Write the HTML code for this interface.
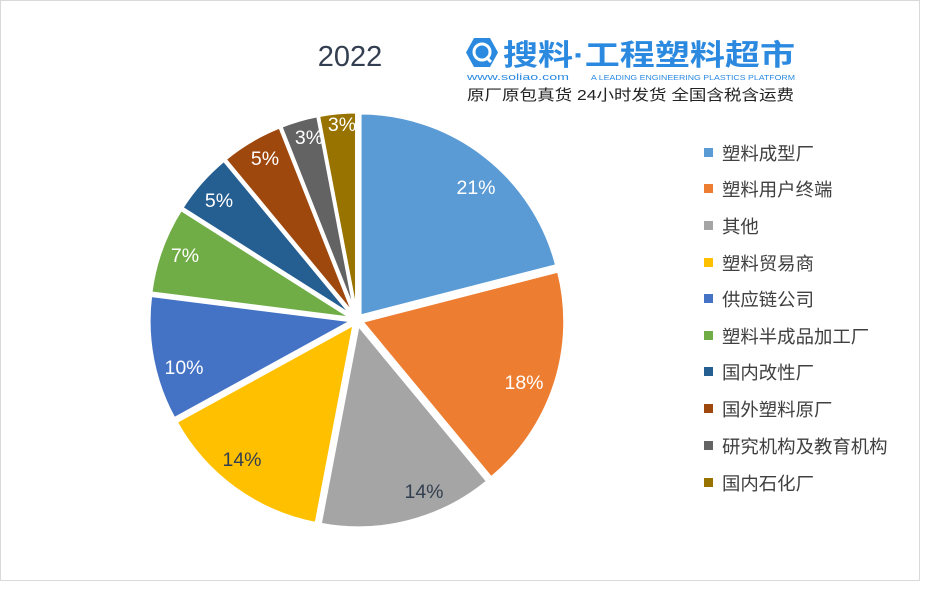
<!DOCTYPE html>
<html><head><meta charset="utf-8"><style>
body{margin:0;background:#fff;}
svg{display:block;font-family:"Liberation Sans","Noto Sans CJK SC",sans-serif;}
</style></head><body>
<svg width="926" height="595" viewBox="0 0 926 595">
<rect x="0.5" y="0.5" width="919" height="580" fill="#fff" stroke="#d9d9d9"/>
<text x="350" y="66" font-size="29" fill="#333f50" text-anchor="middle">2022</text>
<g>
<polygon points="474,38 490,38 498,52.5 490,67 474,67 466,52.5" fill="#2b8ae0"/>
<circle cx="482" cy="52" r="8" fill="none" stroke="#fff" stroke-width="3"/>
<line x1="486" y1="57" x2="491" y2="62" stroke="#fff" stroke-width="3"/>
<text x="503" y="65" font-size="29" font-weight="bold" fill="#2b8ae0" textLength="292" lengthAdjust="spacingAndGlyphs">搜料·工程塑料超市</text>
<text x="467" y="80" font-size="9.5" fill="#2b8ae0" textLength="102" lengthAdjust="spacingAndGlyphs">www.soliao.com</text>
<text x="591" y="80" font-size="7.5" fill="#2b8ae0" textLength="204" lengthAdjust="spacingAndGlyphs">A LEADING ENGINEERING PLASTICS PLATFORM</text>
<text x="467" y="100" font-size="15" fill="#222" textLength="327" lengthAdjust="spacingAndGlyphs">原厂原包真货  24小时发货  全国含税含运费</text>
</g>
<g stroke="#fff" stroke-width="3" stroke-linejoin="round">
<path transform="translate(3.07,-3.95)" d="M357,320 L357,117 A203,203 0 0 1 553.6,269.5 Z" fill="#5b9bd5"/>
<path transform="translate(4.76,1.55)" d="M357,320 L553.6,269.5 A203,203 0 0 1 486.4,476.4 Z" fill="#ed7d31"/>
<path transform="translate(1.24,4.84)" d="M357,320 L486.4,476.4 A203,203 0 0 1 319.0,519.4 Z" fill="#a5a5a5"/>
<path transform="translate(-2.94,4.05)" d="M357,320 L319.0,519.4 A203,203 0 0 1 179.1,417.8 Z" fill="#ffc000"/>
<path transform="translate(-4.91,0.94)" d="M357,320 L179.1,417.8 A203,203 0 0 1 155.6,294.6 Z" fill="#4472c4"/>
<path transform="translate(-4.70,-1.69)" d="M357,320 L155.6,294.6 A203,203 0 0 1 185.6,211.2 Z" fill="#70ad47"/>
<path transform="translate(-3.75,-3.31)" d="M357,320 L185.6,211.2 A203,203 0 0 1 227.6,163.6 Z" fill="#255e91"/>
<path transform="translate(-2.55,-4.30)" d="M357,320 L227.6,163.6 A203,203 0 0 1 282.3,131.3 Z" fill="#9e480e"/>
<path transform="translate(-1.39,-4.80)" d="M357,320 L282.3,131.3 A203,203 0 0 1 319.0,120.6 Z" fill="#636363"/>
<path transform="translate(-0.47,-4.98)" d="M357,320 L319.0,120.6 A203,203 0 0 1 357,117 Z" fill="#997300"/>
</g>
<g font-size="19.5" text-anchor="middle">
<text x="476" y="194" fill="#fff">21%</text>
<text x="524" y="389" fill="#fff">18%</text>
<text x="424" y="498" fill="#333f50">14%</text>
<text x="242" y="466" fill="#333f50">14%</text>
<text x="184" y="374" fill="#fff">10%</text>
<text x="185" y="262" fill="#fff">7%</text>
<text x="219" y="207" fill="#fff">5%</text>
<text x="265" y="165" fill="#fff">5%</text>
<text x="309" y="144" fill="#fff">3%</text>
<text x="342" y="131" fill="#fff">3%</text>
</g>
<g font-size="18.4" fill="#404040">
<rect x="704" y="148" width="9" height="9" fill="#5b9bd5"/><text x="722" y="160">塑料成型厂</text>
<rect x="704" y="184" width="9" height="9" fill="#ed7d31"/><text x="722" y="196">塑料用户终端</text>
<rect x="704" y="221" width="9" height="9" fill="#a5a5a5"/><text x="722" y="233">其他</text>
<rect x="704" y="258" width="9" height="9" fill="#ffc000"/><text x="722" y="270">塑料贸易商</text>
<rect x="704" y="294" width="9" height="9" fill="#4472c4"/><text x="722" y="306">供应链公司</text>
<rect x="704" y="331" width="9" height="9" fill="#70ad47"/><text x="722" y="343">塑料半成品加工厂</text>
<rect x="704" y="367" width="9" height="9" fill="#255e91"/><text x="722" y="379">国内改性厂</text>
<rect x="704" y="404" width="9" height="9" fill="#9e480e"/><text x="722" y="416">国外塑料原厂</text>
<rect x="704" y="441" width="9" height="9" fill="#636363"/><text x="722" y="453">研究机构及教育机构</text>
<rect x="704" y="478" width="9" height="9" fill="#997300"/><text x="722" y="490">国内石化厂</text>
</g>
</svg>
</body></html>
